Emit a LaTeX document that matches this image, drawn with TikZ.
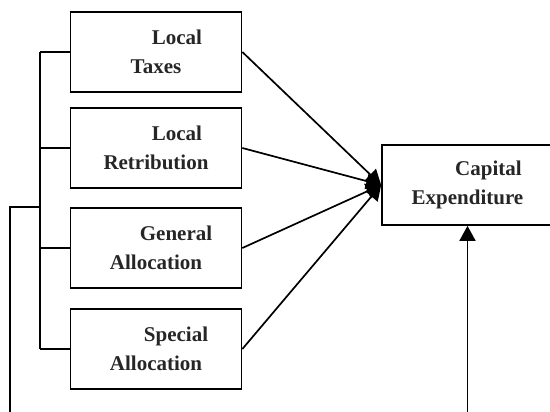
\documentclass[tikz,border=0pt]{standalone}
\usepackage{fontspec}
\setmainfont{Liberation Serif}
\usetikzlibrary{arrows.meta}
\begin{document}
\begin{tikzpicture}[x=1pt,y=-1pt,
  box/.style={draw,line width=1.7pt,minimum width=171pt,minimum height=80pt,align=center,inner sep=0pt,
    font=\fontsize{21}{29}\selectfont\bfseries,text=black!85},
  conn/.style={line width=1.7pt},
  arr/.style={line width=1.7pt,-{Triangle[length=15pt,width=16pt]}}]
\useasboundingbox (0,0) rectangle (550,412);
\clip (0,0) rectangle (550,412);
\node[box] (b1) at (156,52) {\hspace*{42pt}Local\\Taxes};
\node[box] (b2) at (156,148) {\hspace*{42pt}Local\\Retribution};
\node[box] (b3) at (156,248) {\hspace*{40pt}General\\Allocation};
\node[box] (b4) at (156,349) {\hspace*{40pt}Special\\Allocation};
\node[box] (cap) at (467.5,185) {\hspace*{42pt}Capital\\Expenditure};
% left bus
\coordinate (bt) at (40,52);
\coordinate (bb) at (40,349);
\coordinate (bj) at (40,207);
\coordinate (oc) at (10,207);
\coordinate (ob) at (10,420);
\draw[conn] (bt) -- (bb);
\draw[conn] (bt) -- (b1.west);
\draw[conn] (40,148) -- (b2.west);
\draw[conn] (40,248) -- (b3.west);
\draw[conn] (bb) -- (b4.west);
\draw[conn] (bj) -- (oc) -- (ob);
% arrows to capital expenditure
\draw[arr] (b1.east) -- (cap.west);
\draw[arr] (b2.east) -- (cap.west);
\draw[arr] (b3.east) -- (cap.west);
\draw[arr] (b4.east) -- (cap.west);
\coordinate (rb) at (467.5,420);
\draw[arr] (rb) -- (cap.south);
\end{tikzpicture}
\end{document}
